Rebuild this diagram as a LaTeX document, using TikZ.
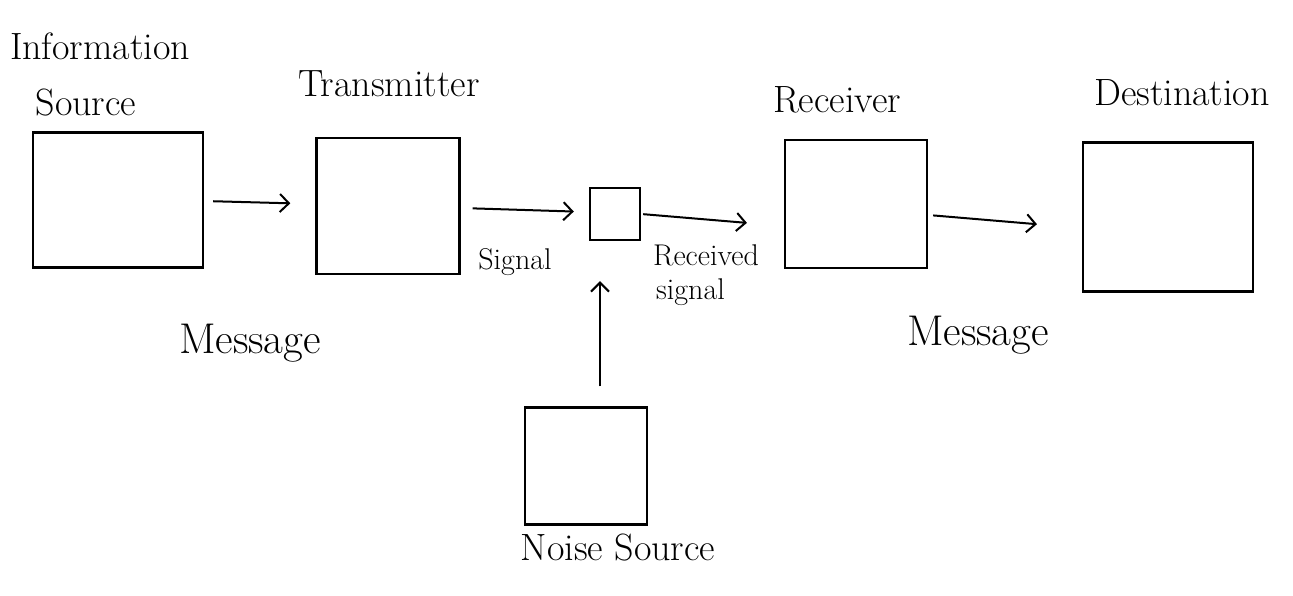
\documentclass[tikz,border=0pt]{standalone}
\usetikzlibrary{arrows.meta}
\begin{document}
\begin{tikzpicture}[x=1pt,y=-1pt,
  box/.style={draw, line width=2.4pt, rectangle, inner sep=0pt},
  arr/.style={line width=2pt, -{Straight Barb[length=9pt,width=18pt,line width=2pt]}},
  lbl/.style={inner sep=0pt, font=\fontsize{38}{42}\selectfont},
  slbl/.style={inner sep=0pt, font=\fontsize{30}{33}\selectfont, align=left},
  mlbl/.style={inner sep=0pt, font=\fontsize{43}{47}\selectfont}]
\useasboundingbox (0,0) rectangle (1293,596);
% boxes
\node[box, minimum width=170pt, minimum height=135pt] (src) at (118,200) {};
\node[box, minimum width=143pt, minimum height=136pt] (tx) at (388,206) {};
\node[box, minimum width=50pt, minimum height=52pt] (mix) at (615,214) {};
\node[box, minimum width=142pt, minimum height=128pt] (rx) at (856,204) {};
\node[box, minimum width=170pt, minimum height=149pt] (dst) at (1168,217) {};
\node[box, minimum width=122pt, minimum height=117pt] (noise) at (586,466) {};
% labels
\node[lbl] (linfo) at (100,46) {Information};
\node[lbl] (lsrc) at (86,103) {Source};
\node[lbl] (ltx) at (389,84) {Transmitter};
\node[lbl] (lrx) at (837,100) {Receiver};
\node[lbl] (ldst) at (1182,93) {Destination};
\node[lbl] (lnoise) at (618,548) {Noise Source};
\node[slbl] (lsig) at (515,262) {Signal};
\node[slbl] (lrsig) at (706,275) {Received\\[1pt]\hspace*{3pt}signal};
\node[mlbl] (lmsg1) at (250,343) {Message};
\node[mlbl] (lmsg2) at (978,335) {Message};
% connectors
\draw[arr, shorten <=9pt, shorten >=25pt] ([yshift=-1pt]src.east) -- ([yshift=2pt]tx.west);
\draw[arr, shorten <=12pt, shorten >=15pt] ([yshift=-2pt]tx.east) -- ([yshift=2pt]mix.west);
\draw[arr, shorten <=2pt, shorten >=37pt] (mix.east) -- ([yshift=-22pt]rx.west);
\draw[arr, shorten <=5pt, shorten >=45pt] ([yshift=-11pt]rx.east) -- ([yshift=-11pt]dst.west);
\draw[arr, shorten <=20pt, shorten >=40pt] ([xshift=14pt]noise.north) -- ([xshift=-15pt]mix.south);
\end{tikzpicture}
\end{document}
